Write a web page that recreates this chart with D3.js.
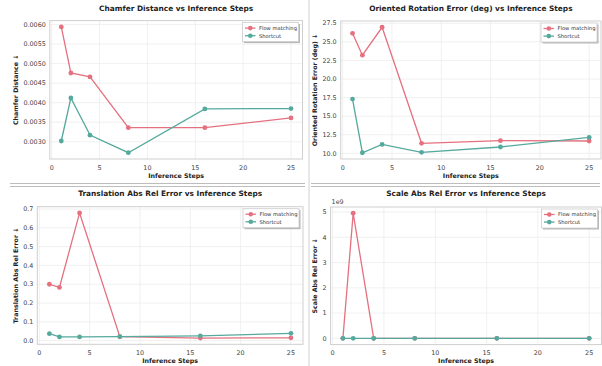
<!DOCTYPE html>
<html>
<head>
<meta charset="utf-8">
<script src="https://cdn.jsdelivr.net/npm/d3@7"></script>
<style>
  body { margin: 0; background: #fff; }
  svg { font-family: "DejaVu Sans", sans-serif; }
</style>
</head>
<body>
<div id="chart"></div>
<script>
// data
const steps = [1, 2, 4, 8, 16, 25];
const xTicks = [0, 5, 10, 15, 20, 25];

const chamferFM = [0.00594, 0.00476, 0.00466, 0.00336, 0.00336, 0.00361];
const chamferSC = [0.00302, 0.00412, 0.00317, 0.00272, 0.00384, 0.00385];
const chamferTicks = [0.0030, 0.0035, 0.0040, 0.0045, 0.0050, 0.0055, 0.0060];

const rotFM = [26.15, 23.2, 26.96, 11.35, 11.7, 11.66];
const rotSC = [17.3, 10.08, 11.2, 10.13, 10.85, 12.15];
const rotTicks = [10.0, 12.5, 15.0, 17.5, 20.0, 22.5, 25.0, 27.5];

const transFM = [0.300, 0.283, 0.679, 0.021, 0.014, 0.015];
const transSC = [0.037, 0.020, 0.020, 0.022, 0.026, 0.039];
const transTicks = [0.0, 0.1, 0.2, 0.3, 0.4, 0.5, 0.6, 0.7];

const scaleFM = [0.31, 4.95e9, 0.42, 0.12, 0.09, 0.08];
const scaleSC = [0.05, 0.04, 0.04, 0.03, 0.03, 0.04];
const scaleTicks = [0, 1e9, 2e9, 3e9, 4e9, 5e9];

const seriesNames = ["Flow matching", "Shortcut"];
const colors = ["#e5707f", "#55a99d"];

const width = 602, height = 366;

const svg = d3.select("#chart")
  .append("svg")
  .attr("width", width)
  .attr("height", height);

// separators
svg.append("line").attr("x1", 309).attr("x2", 309).attr("y1", 0).attr("y2", height)
  .attr("stroke", "#d0d0d0").attr("stroke-width", 1);
[[10, 305], [311, 600]].forEach(([a, b]) => {
  [183.5, 186.5].forEach(y => {
    svg.append("line").attr("x1", a).attr("x2", b).attr("y1", y).attr("y2", y)
      .attr("stroke", "#bdbdbd").attr("stroke-width", 1);
  });
});

function drawPanel(p) {
  const g = svg.append("g");

  const xScale = d3.scaleLinear()
    .domain([-0.2, 26.2])
    .range([p.left, p.right]);

  const all = p.fm.concat(p.sc);
  const [lo, hi] = d3.extent(all);
  const pad = (hi - lo) * 0.05;
  const yScale = d3.scaleLinear()
    .domain([lo - pad, hi + pad])
    .range([p.bottom, p.top]);

  // grid
  g.selectAll("line.gx").data(xTicks).join("line")
    .attr("class", "gx")
    .attr("x1", d => xScale(d)).attr("x2", d => xScale(d))
    .attr("y1", p.top).attr("y2", p.bottom)
    .attr("stroke", "#ececec").attr("stroke-width", 0.8);
  g.selectAll("line.gy").data(p.ticks).join("line")
    .attr("class", "gy")
    .attr("x1", p.left).attr("x2", p.right)
    .attr("y1", d => yScale(d)).attr("y2", d => yScale(d))
    .attr("stroke", "#ececec").attr("stroke-width", 0.8);

  // frame
  g.append("rect")
    .attr("x", p.left).attr("y", p.top)
    .attr("width", p.right - p.left).attr("height", p.bottom - p.top)
    .attr("fill", "none").attr("stroke", "#cfcfcf").attr("stroke-width", 1);

  // tick labels
  g.selectAll("text.xt").data(xTicks).join("text")
    .attr("class", "xt")
    .attr("x", d => xScale(d))
    .attr("y", p.bottom + 10.5)
    .attr("text-anchor", "middle")
    .attr("font-size", 6.4)
    .attr("fill", "#444")
    .text(d => d);
  g.selectAll("text.yt").data(p.ticks).join("text")
    .attr("class", "yt")
    .attr("x", p.left - 4)
    .attr("y", d => yScale(d))
    .attr("dy", "0.35em")
    .attr("text-anchor", "end")
    .attr("font-size", 6.4)
    .attr("fill", "#444")
    .text(p.fmt);

  if (p.offset) {
    g.append("text")
      .attr("x", p.left + 1).attr("y", p.top - 3)
      .attr("font-size", 6.4).attr("fill", "#444")
      .text(p.offset);
  }

  // titles
  g.append("text")
    .attr("x", (p.left + p.right) / 2)
    .attr("y", p.titleY)
    .attr("text-anchor", "middle")
    .attr("font-size", 7.4)
    .attr("font-weight", "bold")
    .attr("fill", "#222")
    .text(p.title);
  g.append("text")
    .attr("x", (p.left + p.right) / 2)
    .attr("y", p.bottom + 18.5)
    .attr("text-anchor", "middle")
    .attr("font-size", 6.3)
    .attr("font-weight", "bold")
    .attr("fill", "#222")
    .text("Inference Steps");
  g.append("text")
    .attr("transform", `translate(${p.yLabelX},${(p.top + p.bottom) / 2}) rotate(-90)`)
    .attr("text-anchor", "middle")
    .attr("dy", "0.35em")
    .attr("font-size", 6.3)
    .attr("font-weight", "bold")
    .attr("fill", "#222")
    .text(p.yLabel);

  // lines + points
  const line = d3.line()
    .x((d, i) => xScale(steps[i]))
    .y(d => yScale(d));
  [p.fm, p.sc].forEach((vals, k) => {
    g.append("path")
      .datum(vals)
      .attr("d", line)
      .attr("fill", "none")
      .attr("stroke", colors[k])
      .attr("stroke-width", 1.3);
    g.selectAll("circle.s" + k).data(vals).join("circle")
      .attr("class", "s" + k)
      .attr("cx", (d, i) => xScale(steps[i]))
      .attr("cy", d => yScale(d))
      .attr("r", 2.4)
      .attr("fill", colors[k]);
  });

  // legend
  const lw = 56, lh = 19;
  const lx = p.right - 4 - lw, ly = p.top + 2;
  g.append("rect")
    .attr("x", lx + 1.5).attr("y", ly + 1.5)
    .attr("width", lw).attr("height", lh)
    .attr("fill", "#8a8a8a").attr("opacity", 0.6);
  g.append("rect")
    .attr("x", lx).attr("y", ly)
    .attr("width", lw).attr("height", lh)
    .attr("fill", "#fff").attr("stroke", "#cccccc").attr("stroke-width", 0.8);
  seriesNames.forEach((name, k) => {
    const yy = ly + 5.5 + k * 7.6;
    g.append("line")
      .attr("x1", lx + 2.5).attr("x2", lx + 13)
      .attr("y1", yy).attr("y2", yy)
      .attr("stroke", colors[k]).attr("stroke-width", 1.3);
    g.append("circle")
      .attr("cx", lx + 7.8).attr("cy", yy).attr("r", 2.3)
      .attr("fill", colors[k]);
    g.append("text")
      .attr("x", lx + 16.5).attr("y", yy)
      .attr("dy", "0.35em")
      .attr("font-size", 5.2)
      .attr("fill", "#333")
      .text(name);
  });
}

const panels = [
  { title: "Chamfer Distance vs Inference Steps", yLabel: "Chamfer Distance ↓",
    fm: chamferFM, sc: chamferSC, ticks: chamferTicks, fmt: d3.format(".4f"),
    left: 49.8, right: 302.5, top: 20.6, bottom: 159, titleY: 10.5, yLabelX: 16 },
  { title: "Oriented Rotation Error (deg) vs Inference Steps", yLabel: "Oriented Rotation Error (deg) ↓",
    fm: rotFM, sc: rotSC, ticks: rotTicks, fmt: d3.format(".1f"),
    left: 340.7, right: 601, top: 21, bottom: 159, titleY: 10.5, yLabelX: 315 },
  { title: "Translation Abs Rel Error vs Inference Steps", yLabel: "Translation Abs Rel Error ↓",
    fm: transFM, sc: transSC, ticks: transTicks, fmt: d3.format(".1f"),
    left: 37.3, right: 303, top: 206.7, bottom: 344.3, titleY: 195.5, yLabelX: 16 },
  { title: "Scale Abs Rel Error vs Inference Steps", yLabel: "Scale Abs Rel Error ↓",
    fm: scaleFM, sc: scaleSC, ticks: scaleTicks, fmt: d => d / 1e9, offset: "1e9",
    left: 330.6, right: 601.5, top: 207, bottom: 344.6, titleY: 195.5, yLabelX: 315 }
];

panels.forEach(drawPanel);
</script>
</body>
</html>
